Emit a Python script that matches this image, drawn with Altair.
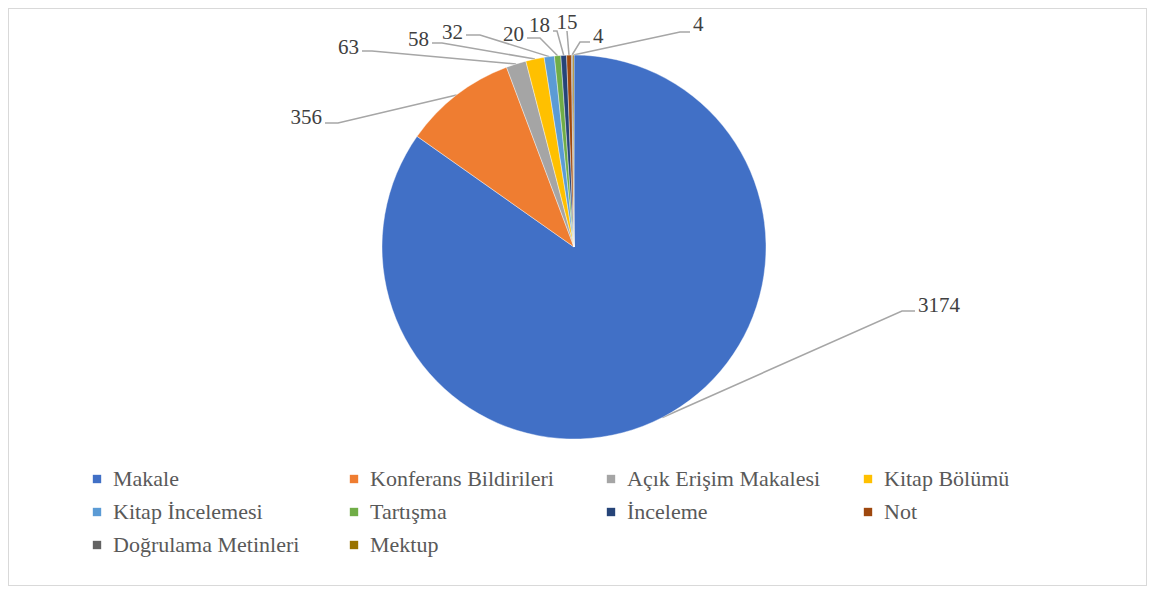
import math
import altair as alt
import pandas as pd

# ---- data ----
categories = ["Makale", "Konferans Bildirileri", "Açık Erişim Makalesi", "Kitap Bölümü",
              "Kitap İncelemesi", "Tartışma", "İnceleme", "Not", "Doğrulama Metinleri", "Mektup"]
values = [3174, 356, 63, 58, 32, 20, 18, 15, 4, 4]
colors = ["#4170C6", "#EF7D31", "#A5A5A5", "#FFC000", "#5B9BD5",
          "#70AD47", "#264478", "#9E480E", "#636363", "#997300"]

# ---- label layout (leader-line elbows, in view pixels) ----
elbow_x = [894, 330, 364, 434, 472, 532, 549, 559, 572, 672]
elbow_y = [303, 115, 43, 35, 27, 30, 23, 23, 34, 24]
tail_x = [907, 317, 354, 424, 458, 519, 545, 559, 582, 682]
text_align = ["left", "right", "right", "right", "right", "right", "right", "center", "left", "left"]
text_dy = [-5, -5, -3, -3, -2, -3, -5, -8, -5, -7]

FONT = "Liberation Serif"
W, H = 1139, 578
CX, CY, R = 566, 239, 192

df = pd.DataFrame({"cat": categories, "value": values, "idx": range(len(values))})

total = sum(values)
cum = 0
line_rows, text_rows = [], []
for i, v in enumerate(values):
    mid = (cum + v / 2) / total * 2 * math.pi
    cum += v
    sx = CX + R * math.sin(mid)
    sy = CY - R * math.cos(mid)
    pts = [(sx, sy), (elbow_x[i], elbow_y[i]), (tail_x[i], elbow_y[i])]
    for k, (px, py) in enumerate(pts):
        line_rows.append({"id": i, "k": k, "px": px, "py": py})
    off = {"left": 3, "right": -3, "center": 0}[text_align[i]]
    text_rows.append({"label": str(v), "tx": tail_x[i] + off,
                      "ty": elbow_y[i] + text_dy[i], "align": text_align[i]})

lines_df = pd.DataFrame(line_rows)
text_df = pd.DataFrame(text_rows)

pie = alt.Chart(df).mark_arc(outerRadius=R, stroke="white", strokeWidth=0.4).encode(
    theta=alt.Theta("value:Q", stack=True),
    color=alt.Color(
        "cat:N",
        scale=alt.Scale(domain=categories, range=colors),
        legend=alt.Legend(
            title=None, orient="none", legendX=78, legendY=460, columns=4,
            direction="horizontal",
            gridAlign="all", columnPadding=36, rowPadding=11,
            symbolType="square", symbolSize=70, symbolStrokeWidth=0,
            labelFont=FONT, labelFontSize=22, labelColor="#595959",
            labelOffset=5, labelLimit=400,
        ),
    ),
    order=alt.Order("idx:Q", sort="ascending"),
    x=alt.value(CX), y=alt.value(CY),
)

leaders = alt.Chart(lines_df).mark_line(color="#A6A6A6", strokeWidth=1.5).encode(
    x=alt.X("px:Q", scale=None, axis=None),
    y=alt.Y("py:Q", scale=None, axis=None),
    detail="id:N",
    order="k:Q",
)

def text_layer(al):
    return alt.Chart(text_df).transform_filter(alt.datum.align == al).mark_text(
        align=al, baseline="middle", font=FONT, fontSize=21, color="#404040"
    ).encode(
        x=alt.X("tx:Q", scale=None, axis=None),
        y=alt.Y("ty:Q", scale=None, axis=None),
        text="label:N",
    )

chart = alt.layer(
    leaders, pie, text_layer("left"), text_layer("right"), text_layer("center")
).properties(
    width=W, height=H, padding=0
).configure(
    font=FONT
).configure_view(
    stroke="#D9D9D9", strokeWidth=2
)

chart.save("out.html", embed_options={"renderer": "svg", "actions": False})
